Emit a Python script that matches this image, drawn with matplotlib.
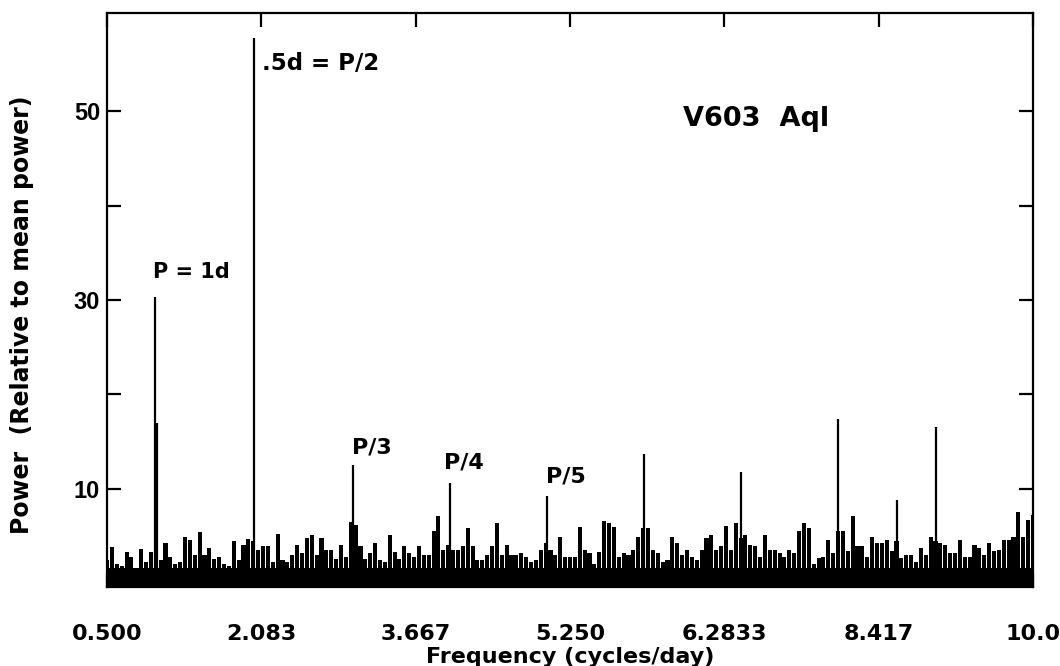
import numpy as np
import matplotlib.pyplot as plt

# periodogram noise floor, read every 0.05 cycles/day from 0.50 to 10.00
noise_power = [
    2.5, 3.8, 2.0, 1.8, 3.3, 2.8, 1.6, 3.6, 2.2, 3.3,
    4.0, 2.5, 4.3, 2.8, 2.0, 2.3, 4.9, 4.6, 3.0, 5.4,
    3.0, 3.7, 2.6, 2.8, 2.0, 1.8, 4.5, 2.5, 4.1, 4.7,
    4.5, 3.5, 3.9, 3.9, 2.2, 5.2, 2.5, 2.2, 3.0, 4.1,
    3.2, 4.8, 5.1, 3.0, 4.8, 3.5, 3.5, 2.6, 4.1, 2.8,
    6.5, 6.2, 3.9, 2.6, 3.2, 4.3, 2.5, 2.2, 5.1, 3.3,
    2.6, 3.9, 3.2, 2.8, 3.9, 3.0, 3.0, 5.5, 7.1, 3.5,
    4.0, 3.5, 3.5, 3.9, 5.9, 3.9, 2.5, 2.5, 3.0, 3.9,
    6.4, 3.0, 4.1, 3.0, 3.0, 3.2, 2.8, 2.3, 2.5, 3.5,
    4.3, 3.5, 3.0, 4.9, 2.8, 2.8, 2.8, 6.0, 3.5, 3.2,
    2.0, 3.3, 6.6, 6.4, 6.0, 2.8, 3.2, 3.0, 3.5, 4.9,
    5.9, 5.9, 3.5, 3.2, 2.2, 2.5, 4.9, 4.3, 3.0, 3.5,
    2.8, 2.5, 3.5, 4.8, 5.1, 3.5, 3.9, 6.1, 3.5, 6.4,
    4.8, 5.1, 4.1, 3.9, 2.8, 5.1, 3.5, 3.5, 3.2, 2.8,
    3.5, 3.2, 5.5, 6.4, 5.9, 2.0, 2.7, 2.8, 4.6, 3.2,
    5.5, 5.5, 3.4, 7.1, 3.9, 3.9, 2.8, 4.9, 4.3, 4.3,
    4.6, 3.4, 4.5, 2.7, 3.0, 3.0, 2.3, 3.7, 3.0, 4.9,
    4.5, 4.3, 4.1, 3.2, 3.2, 4.6, 2.8, 2.8, 4.1, 3.7,
    3.0, 4.3, 3.4, 3.5, 4.6, 4.6, 4.9, 7.5, 4.9, 6.7, 7.2,
]
noise_floor = 1.6  # solid band under the needles

# the sharp peaks
peak_freq = [0.99, 1.01, 2.01, 3.02, 4.02, 5.01, 6.01, 7.00, 8.00, 8.60, 9.00]
peak_power = [30.3, 17.0, 57.8, 12.5, 10.6, 9.2, 13.7, 11.8, 17.4, 8.8, 16.5]

xtick_vals = [0.5, 2.083, 3.667, 5.25, 6.833, 8.417, 10.0]
xtick_labels = ['0.500', '2.083', '3.667', '5.250', '6.2833', '8.417', '10.0']
ytick_vals = [10, 20, 30, 40, 50]
ytick_labels = ['10', '', '30', '', '50']

plt.rcParams['font.family'] = ['DejaVu Sans']
plt.rcParams['font.weight'] = 'bold'
plt.rcParams['axes.labelweight'] = 'bold'

fig = plt.figure(figsize=(10.6, 6.66), dpi=100)
ax = fig.add_axes([0.101, 0.119, 0.8735, 0.8615])

freq = np.linspace(0.5, 10.0, len(noise_power))
ax.fill_between([0.5, 10.0], -1, noise_floor, color='black', lw=0)
ax.bar(freq, np.array(noise_power) + 1, width=0.042, bottom=-1,
       color='black', lw=0)
ax.vlines(peak_freq, -1, peak_power, color='black', lw=1.6)

ax.set_xlim(0.5, 10.0)
ax.set_ylim(-0.37, 60.4)

ax.set_xticks(xtick_vals)
ax.set_xticklabels(xtick_labels, fontsize=16)
ax.set_yticks(ytick_vals)
ax.set_yticklabels(ytick_labels, fontsize=17, family='Liberation Sans')
ax.tick_params(axis='both', direction='in', length=10, width=1.6,
               top=True, right=True)
ax.tick_params(axis='x', pad=27)
ax.tick_params(axis='y', pad=5)
# bottom ticks show as white notches in the filled noise
for t in ax.xaxis.get_major_ticks():
    t.tick1line.set_color('white')

for s in ax.spines.values():
    s.set_linewidth(1.6)

ax.set_xlabel('Frequency (cycles/day)', fontsize=16)
ax.xaxis.label.set_va('baseline')
ax.xaxis.set_label_coords(0.5, -0.1324)
ax.set_ylabel('Power  (Relative to mean power)', fontsize=17)
ax.yaxis.label.set_va('center')
ax.yaxis.set_label_coords(-0.092, 0.474)

# annotations
ax.text(2.09, 55.1, '.5d = P/2', fontsize=16.5, va='center', ha='left')
ax.text(6.41, 49.2, 'V603  Aql', fontsize=19.5, va='center', ha='left')
ax.text(0.97, 33.0, 'P = 1d', fontsize=15, va='center', ha='left')
ax.text(3.01, 14.4, 'P/3', fontsize=16, va='center', ha='left')
ax.text(3.96, 12.8, 'P/4', fontsize=16, va='center', ha='left')
ax.text(5.00, 11.3, 'P/5', fontsize=16, va='center', ha='left')

fig.savefig('out.png', dpi=100)
